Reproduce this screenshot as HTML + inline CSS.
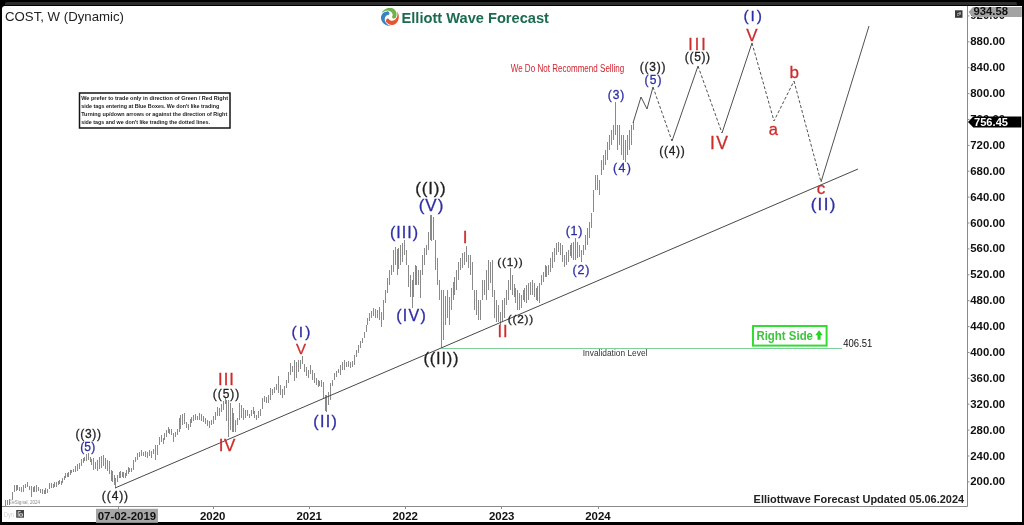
<!DOCTYPE html>
<html><head><meta charset="utf-8">
<style>
html,body{margin:0;padding:0;}
body{width:1024px;height:525px;overflow:hidden;background:#000;position:relative;font-family:"Liberation Sans",sans-serif;}
#panel{position:absolute;left:2px;top:6px;width:1020px;height:516px;background:#fff;border-top-left-radius:3px;}
#band{position:absolute;left:5px;top:2px;width:1012px;height:3px;background:#2e2e2e;border-radius:2px 2px 0 0;}
svg{position:absolute;left:0;top:0;will-change:transform;}
.t{position:absolute;white-space:nowrap;line-height:1;}
</style></head><body>
<div id="band"></div>
<div id="panel"></div>
<svg width="1024" height="525" viewBox="0 0 1024 525" font-family="Liberation Sans, sans-serif">
  <!-- axes -->
  <path d="M967.5 6V506.5M2 506.5H967.5" stroke="#8a8a8a" stroke-width="1" fill="none"/>
  <!-- y ticks -->
  <g stroke="#8c8c8c" stroke-width="1"><path d="M967.5 481.9h2"/><path d="M967.5 456.0h2"/><path d="M967.5 430.1h2"/><path d="M967.5 404.2h2"/><path d="M967.5 378.3h2"/><path d="M967.5 352.5h2"/><path d="M967.5 326.6h2"/><path d="M967.5 300.7h2"/><path d="M967.5 274.8h2"/><path d="M967.5 248.9h2"/><path d="M967.5 223.0h2"/><path d="M967.5 197.1h2"/><path d="M967.5 171.2h2"/><path d="M967.5 145.4h2"/><path d="M967.5 119.5h2"/><path d="M967.5 93.6h2"/><path d="M967.5 67.7h2"/><path d="M967.5 41.8h2"/><path d="M967.5 15.9h2"/></g>
  <!-- x ticks -->
  <g stroke="#8c8c8c" stroke-width="1"><path d="M118.5 506v3"/><path d="M213.5 506v3"/><path d="M309.5 506v3"/><path d="M405.5 506v3"/><path d="M501.5 506v3"/><path d="M598.5 506v3"/></g>
  <!-- price bars -->
  <path d="M5.5 500V506M7.5 500V505M9.5 499V505M12.5 492V500M14.5 485V492M16.5 485V491M17.5 485V490M19.5 487V491M21.5 487V492M23.5 485V492M25.5 484V488M27.5 482V487M29.5 486V490M31.5 486V497M33.5 487V492M34.5 486V492M36.5 485V492M38.5 487V491M40.5 489V493M42.5 489V494M44.5 490V494M45.5 488V494M47.5 489V493M49.5 483V489M51.5 483V488M53.5 484V488M54.5 482V487M56.5 482V487M58.5 481V485M59.5 480V484M61.5 481V485M62.5 478V483M64.5 476V480M65.5 473V478M67.5 473V477M68.5 472V477M70.5 470V475M71.5 470V473M73.5 469V472M75.5 466V472M77.5 464V471M79.5 463V469M81.5 459V466M83.5 458V463M84.5 457V461M86.5 454V461M88.5 453V460M90.5 457V462M91.5 459V465M93.5 458V470M95.5 462V469M97.5 460V471M99.5 457V469M101.5 456V468M103.5 455V466M105.5 458V469M107.5 460V471M109.5 461V474M111.5 470V481M112.5 471V482M114.5 475V485M115.5 478V488M117.5 475V482M119.5 472V478M120.5 471V478M122.5 472V477M123.5 472V478M125.5 473V478M126.5 470V476M128.5 467V474M129.5 468V472M131.5 468V472M133.5 460V470M135.5 457V462M137.5 453V460M139.5 452V457M141.5 450V456M143.5 452V456M145.5 451V457M147.5 452V458M149.5 450V456M151.5 451V458M153.5 449V454M155.5 445V460M157.5 445V455M159.5 437V445M161.5 435V442M163.5 438V444M164.5 433V440M166.5 430V437M168.5 427V433M169.5 429V434M171.5 429V435M173.5 433V442M175.5 432V437M177.5 429V435M179.5 418V432M180.5 415V429M182.5 414V425M184.5 413V424M186.5 422V428M188.5 424V430M190.5 419V427M191.5 417V423M193.5 415V421M195.5 414V420M197.5 416V420M199.5 413V420M201.5 414V421M203.5 416V422M205.5 418V424M207.5 420V426M209.5 421V428M211.5 420V425M213.5 416V424M215.5 412V420M217.5 407V416M219.5 408V416M221.5 404V412M223.5 401V410M225.5 398V404M226.5 400V421M228.5 400V437M230.5 403V430M232.5 408V432M233.5 413V432M235.5 420V432M237.5 418V425M239.5 403V420M241.5 405V418M243.5 408V420M245.5 410V418M247.5 410V416M249.5 414V418M251.5 410V416M253.5 407V414M254.5 411V418M256.5 415V420M258.5 411V418M260.5 409V416M262.5 398V409M264.5 396V402M266.5 397V403M268.5 395V403M270.5 388V400M272.5 389V395M274.5 387V393M276.5 384V390M278.5 376V393M280.5 385V395M282.5 389V398M284.5 386V395M286.5 380V388M288.5 372V383M290.5 363V375M292.5 366V372M294.5 360V381M296.5 362V378M298.5 360V372M300.5 360V369M302.5 356V364M304.5 364V372M306.5 367V376M308.5 370V378M310.5 365V374M312.5 370V380M314.5 373V383M316.5 378V385M318.5 380V387M319.5 381V386M321.5 380V387M323.5 382V398M325.5 395V411M326.5 395V412M328.5 392V405M330.5 383V400M332.5 380V386M334.5 373V380M336.5 371V377M338.5 369V373M340.5 365V375M342.5 362V370M344.5 360V370M346.5 362V367M348.5 361V367M350.5 362V368M352.5 361V367M354.5 355V365M356.5 350V357M358.5 345V353M360.5 341V348M362.5 338V343M364.5 332V338M366.5 325V332M367.5 318V325M369.5 313V321M371.5 311V318M373.5 308V316M375.5 309V318M377.5 310V318M379.5 307V320M381.5 312V327M383.5 300V320M385.5 290V303M387.5 278V293M389.5 270V285M391.5 265V275M393.5 250V272M395.5 247V265M397.5 249V275M398.5 248V269M400.5 245V265M402.5 243V262M404.5 240V255M406.5 250V265M408.5 265V287M410.5 275V297M412.5 280V308M413.5 272V297M415.5 265V285M416.5 266V285M418.5 270V285M420.5 270V298M422.5 255V275M424.5 248V265M426.5 245V255M428.5 232V250M430.5 215V240M431.5 215V241M433.5 217V240M435.5 240V270M437.5 258V285M439.5 280V300M441.5 290V348M443.5 290V340M445.5 296V325M447.5 290V318M449.5 297V325M451.5 288V310M453.5 282V300M454.5 277V295M456.5 270V290M458.5 262V280M460.5 258V270M462.5 253V268M464.5 252V265M466.5 246V262M468.5 255V268M470.5 255V275M472.5 262V290M474.5 290V310M476.5 290V315M478.5 300V320M480.5 300V320M482.5 280V300M484.5 280V295M486.5 270V300M488.5 260V290M490.5 262V283M492.5 260V297M494.5 290V318M496.5 300V322M498.5 305V322M500.5 312V325M502.5 300V322M504.5 298V318M506.5 290V305M508.5 280V300M510.5 268V290M512.5 275V295M514.5 284V297M515.5 288V303M517.5 290V310M519.5 293V310M521.5 295V308M523.5 290V300M524.5 288V302M526.5 285V303M528.5 283V300M530.5 282V295M532.5 280V295M534.5 283V297M536.5 288V300M537.5 286V301M539.5 283V303M541.5 275V285M543.5 272V282M545.5 265V277M546.5 266V277M548.5 265V275M550.5 258V272M552.5 252V268M554.5 248V262M556.5 243V255M558.5 242V252M560.5 243V255M562.5 245V262M564.5 255V267M566.5 252V265M568.5 250V262M570.5 245V256M571.5 243V258M573.5 242V260M575.5 238V260M577.5 242V258M579.5 245V257M581.5 250V262M583.5 245V255M585.5 235V250M587.5 228V245M589.5 222V238M591.5 213V228M593.5 190V212M595.5 175V190M597.5 175V190M599.5 180V195M601.5 160V175M603.5 155V170M605.5 150V165M607.5 142V160M609.5 135V150M611.5 130V145M613.5 125V140M615.5 102V135M617.5 125V150M619.5 125V145M621.5 135V155M623.5 135V160M625.5 140V162M627.5 135V155M629.5 130V150M631.5 125V145M633.5 122V130" stroke="#8a8a8a" stroke-width="1" fill="none"/>
  <!-- trendline -->
  <line x1="115" y1="488" x2="858" y2="169" stroke="#484848" stroke-width="1"/>
  <!-- invalidation green line -->
  <line x1="441" y1="348.5" x2="842" y2="348.5" stroke="#7fcf9a" stroke-width="1"/>
  <!-- projection -->
  <g fill="none" stroke="#505050" stroke-width="1">
    <polyline points="633,123 641,97 647,109 653,87"/>
    <polyline points="672,141 698,66"/>
    <polyline points="722,133 752,43"/>
        <polyline points="821,182 869,26"/>
  </g>
  <g fill="none" stroke="#505050" stroke-width="1" stroke-dasharray="3,2">
    <polyline points="653,87 672,141"/>
    <polyline points="698,66 722,133"/>
    <polyline points="752,43 774,121 794,81"/>
    <polyline points="794,81 821,182"/>
  </g>
  <!-- logo -->
  <path d="M390.58 25.87 L389.41 25.89 L388.24 25.76 L387.09 25.48 L386.00 25.06 L384.96 24.49 L384.01 23.79 L383.16 22.98 L382.43 22.06 L381.82 21.06 L381.34 19.98 L381.01 18.85 L380.93 17.68 L381.08 16.52 L381.43 15.42 L381.95 14.43 L382.62 13.55 L383.40 12.82 L384.27 12.26 L385.19 11.87 L386.13 11.66 A2.10 2.10 0 0 1 388.54 15.10 L388.54 15.10 L388.11 15.05 L387.64 15.09 L387.16 15.22 L386.68 15.45 L386.22 15.77 L385.79 16.19 L385.42 16.71 L385.11 17.31 L384.89 17.99 L384.77 18.73 L384.76 19.53 L384.87 20.35 L385.11 21.19 L385.49 22.03 L386.01 22.84 L386.67 23.61 L387.46 24.31 L388.39 24.92 L389.43 25.43 L390.56 25.57Z" fill="#3784c4"/>
  <path d="M381.64 13.10 L382.21 12.06 L382.91 11.11 L383.72 10.26 L384.64 9.53 L385.64 8.92 L386.72 8.44 L387.85 8.11 L389.02 7.93 L390.19 7.91 L391.36 8.04 L392.51 8.32 L393.56 8.83 L394.49 9.54 L395.26 10.39 L395.87 11.34 L396.29 12.36 L396.53 13.40 L396.58 14.43 L396.46 15.42 L396.18 16.34 A2.10 2.10 0 0 1 391.99 16.71 L391.99 16.71 L392.25 16.36 L392.45 15.94 L392.57 15.46 L392.62 14.93 L392.57 14.37 L392.41 13.78 L392.16 13.20 L391.79 12.63 L391.31 12.10 L390.73 11.63 L390.05 11.22 L389.28 10.90 L388.42 10.69 L387.51 10.61 L386.55 10.65 L385.55 10.84 L384.55 11.17 L383.56 11.67 L382.60 12.31 L381.92 13.22Z" fill="#72b24e"/>
  <path d="M397.17 11.74 L397.78 12.74 L398.26 13.82 L398.59 14.95 L398.77 16.12 L398.79 17.29 L398.66 18.46 L398.38 19.61 L397.96 20.70 L397.39 21.74 L396.69 22.69 L395.88 23.54 L394.91 24.19 L393.83 24.64 L392.71 24.89 L391.58 24.93 L390.49 24.79 L389.47 24.48 L388.55 24.01 L387.75 23.41 L387.10 22.70 A2.10 2.10 0 0 1 388.87 18.89 L388.87 18.89 L389.05 19.29 L389.31 19.67 L389.66 20.02 L390.10 20.32 L390.61 20.56 L391.19 20.72 L391.82 20.79 L392.50 20.76 L393.20 20.61 L393.90 20.34 L394.60 19.95 L395.26 19.44 L395.86 18.81 L396.40 18.06 L396.84 17.21 L397.17 16.25 L397.38 15.22 L397.45 14.11 L397.38 12.96 L396.93 11.91Z" fill="#e5552f"/>
  <!-- wave labels -->
  <text x="88.67" y="438" font-size="12" fill="#1e1e1e" stroke="#1e1e1e" stroke-width="0.3" text-anchor="middle" letter-spacing="0.75">((3))</text>
  <text x="87.75" y="450.5" font-size="12" fill="#2d2da6" stroke="#2d2da6" stroke-width="0.3" text-anchor="middle" letter-spacing="0.1">(5)</text>
  <text x="115.45" y="499.5" font-size="12" fill="#1e1e1e" stroke="#1e1e1e" stroke-width="0.3" text-anchor="middle" letter-spacing="0.9">((4))</text>
  <text x="226.53" y="385" font-size="16.5" fill="#cf2c2c" stroke="#cf2c2c" stroke-width="0.3" text-anchor="middle" letter-spacing="1.05">III</text>
  <text x="226.50" y="397.5" font-size="12" fill="#1e1e1e" stroke="#1e1e1e" stroke-width="0.3" text-anchor="middle" letter-spacing="1.0">((5))</text>
  <text x="227.25" y="451" font-size="17" fill="#cf2c2c" stroke="#cf2c2c" stroke-width="0.3" text-anchor="middle" letter-spacing="0.5">IV</text>
  <text x="302.10" y="336.5" font-size="15.5" fill="#2d2da6" stroke="#2d2da6" stroke-width="0.3" text-anchor="middle" letter-spacing="2.2">(I)</text>
  <text x="301.00" y="354" font-size="15" fill="#cf2c2c" stroke="#cf2c2c" stroke-width="0.3" text-anchor="middle" letter-spacing="0">V</text>
  <text x="325.65" y="427" font-size="16" fill="#2d2da6" stroke="#2d2da6" stroke-width="0.3" text-anchor="middle" letter-spacing="1.3">(II)</text>
  <text x="404.50" y="238" font-size="16" fill="#2d2da6" stroke="#2d2da6" stroke-width="0.3" text-anchor="middle" letter-spacing="1.0">(III)</text>
  <text x="411.65" y="321.4" font-size="16" fill="#2d2da6" stroke="#2d2da6" stroke-width="0.3" text-anchor="middle" letter-spacing="1.3">(IV)</text>
  <text x="430.90" y="193.8" font-size="17" fill="#1e1e1e" stroke="#1e1e1e" stroke-width="0.3" text-anchor="middle" letter-spacing="0.8">((I))</text>
  <text x="431.50" y="211.4" font-size="17" fill="#2d2da6" stroke="#2d2da6" stroke-width="0.3" text-anchor="middle" letter-spacing="1.0">(V)</text>
  <text x="441.40" y="364.2" font-size="16.5" fill="#1e1e1e" stroke="#1e1e1e" stroke-width="0.3" text-anchor="middle" letter-spacing="0.8">((II))</text>
  <text x="465.00" y="242.6" font-size="17" fill="#cf2c2c" stroke="#cf2c2c" stroke-width="0.3" text-anchor="middle" letter-spacing="0">I</text>
  <text x="510.40" y="265.5" font-size="11.8" fill="#1e1e1e" stroke="#1e1e1e" stroke-width="0.3" text-anchor="middle" letter-spacing="0.8">((1))</text>
  <text x="503.10" y="336.7" font-size="16.5" fill="#cf2c2c" stroke="#cf2c2c" stroke-width="0.3" text-anchor="middle" letter-spacing="1.0">II</text>
  <text x="520.90" y="322.6" font-size="11.8" fill="#1e1e1e" stroke="#1e1e1e" stroke-width="0.3" text-anchor="middle" letter-spacing="0.8">((2))</text>
  <text x="574.35" y="234.8" font-size="12.5" fill="#2d2da6" stroke="#2d2da6" stroke-width="0.3" text-anchor="middle" letter-spacing="0.7">(1)</text>
  <text x="581.38" y="273.8" font-size="12.5" fill="#2d2da6" stroke="#2d2da6" stroke-width="0.3" text-anchor="middle" letter-spacing="0.75">(2)</text>
  <text x="616.50" y="99" font-size="12" fill="#2d2da6" stroke="#2d2da6" stroke-width="0.3" text-anchor="middle" letter-spacing="1.0">(3)</text>
  <text x="622.65" y="171.5" font-size="12.5" fill="#2d2da6" stroke="#2d2da6" stroke-width="0.3" text-anchor="middle" letter-spacing="1.3">(4)</text>
  <text x="652.98" y="71" font-size="12" fill="#1e1e1e" stroke="#1e1e1e" stroke-width="0.3" text-anchor="middle" letter-spacing="0.75">((3))</text>
  <text x="653.55" y="83.5" font-size="12" fill="#2d2da6" stroke="#2d2da6" stroke-width="0.3" text-anchor="middle" letter-spacing="1.1">(5)</text>
  <text x="672.38" y="154.5" font-size="12" fill="#1e1e1e" stroke="#1e1e1e" stroke-width="0.3" text-anchor="middle" letter-spacing="0.75">((4))</text>
  <text x="698.00" y="49.5" font-size="16" fill="#cf2c2c" stroke="#cf2c2c" stroke-width="0.3" text-anchor="middle" letter-spacing="2.0">III</text>
  <text x="697.83" y="60.5" font-size="12" fill="#1e1e1e" stroke="#1e1e1e" stroke-width="0.3" text-anchor="middle" letter-spacing="0.65">((5))</text>
  <text x="719.75" y="149" font-size="17.5" fill="#cf2c2c" stroke="#cf2c2c" stroke-width="0.3" text-anchor="middle" letter-spacing="1.5">IV</text>
  <text x="752.00" y="40.5" font-size="17" fill="#cf2c2c" stroke="#cf2c2c" stroke-width="0.3" text-anchor="middle" letter-spacing="0">V</text>
  <text x="753.70" y="21" font-size="15.5" fill="#2d2da6" stroke="#2d2da6" stroke-width="0.3" text-anchor="middle" letter-spacing="2.0">(I)</text>
  <text x="773.30" y="135" font-size="16.5" fill="#cf2c2c" stroke="#cf2c2c" stroke-width="0.3" text-anchor="middle" letter-spacing="0">a</text>
  <text x="794.30" y="78" font-size="17" fill="#cf2c2c" stroke="#cf2c2c" stroke-width="0.3" text-anchor="middle" letter-spacing="0">b</text>
  <text x="821.00" y="193.5" font-size="17" fill="#cf2c2c" stroke="#cf2c2c" stroke-width="0.3" text-anchor="middle" letter-spacing="0">c</text>
  <text x="823.65" y="210" font-size="17" fill="#2d2da6" stroke="#2d2da6" stroke-width="0.3" text-anchor="middle" letter-spacing="1.3">(II)</text>
  <text x="970.3" y="485.4" font-size="11" font-weight="bold" fill="#111" textLength="34.8" lengthAdjust="spacingAndGlyphs">200.00</text>
  <text x="970.3" y="459.5" font-size="11" font-weight="bold" fill="#111" textLength="34.8" lengthAdjust="spacingAndGlyphs">240.00</text>
  <text x="970.3" y="433.6" font-size="11" font-weight="bold" fill="#111" textLength="34.8" lengthAdjust="spacingAndGlyphs">280.00</text>
  <text x="970.3" y="407.7" font-size="11" font-weight="bold" fill="#111" textLength="34.8" lengthAdjust="spacingAndGlyphs">320.00</text>
  <text x="970.3" y="381.8" font-size="11" font-weight="bold" fill="#111" textLength="34.8" lengthAdjust="spacingAndGlyphs">360.00</text>
  <text x="970.3" y="356.0" font-size="11" font-weight="bold" fill="#111" textLength="34.8" lengthAdjust="spacingAndGlyphs">400.00</text>
  <text x="970.3" y="330.1" font-size="11" font-weight="bold" fill="#111" textLength="34.8" lengthAdjust="spacingAndGlyphs">440.00</text>
  <text x="970.3" y="304.2" font-size="11" font-weight="bold" fill="#111" textLength="34.8" lengthAdjust="spacingAndGlyphs">480.00</text>
  <text x="970.3" y="278.3" font-size="11" font-weight="bold" fill="#111" textLength="34.8" lengthAdjust="spacingAndGlyphs">520.00</text>
  <text x="970.3" y="252.4" font-size="11" font-weight="bold" fill="#111" textLength="34.8" lengthAdjust="spacingAndGlyphs">560.00</text>
  <text x="970.3" y="226.5" font-size="11" font-weight="bold" fill="#111" textLength="34.8" lengthAdjust="spacingAndGlyphs">600.00</text>
  <text x="970.3" y="200.6" font-size="11" font-weight="bold" fill="#111" textLength="34.8" lengthAdjust="spacingAndGlyphs">640.00</text>
  <text x="970.3" y="174.7" font-size="11" font-weight="bold" fill="#111" textLength="34.8" lengthAdjust="spacingAndGlyphs">680.00</text>
  <text x="970.3" y="148.9" font-size="11" font-weight="bold" fill="#111" textLength="34.8" lengthAdjust="spacingAndGlyphs">720.00</text>
  <text x="970.3" y="123.0" font-size="11" font-weight="bold" fill="#111" textLength="34.8" lengthAdjust="spacingAndGlyphs">760.00</text>
  <text x="970.3" y="97.1" font-size="11" font-weight="bold" fill="#111" textLength="34.8" lengthAdjust="spacingAndGlyphs">800.00</text>
  <text x="970.3" y="71.2" font-size="11" font-weight="bold" fill="#111" textLength="34.8" lengthAdjust="spacingAndGlyphs">840.00</text>
  <text x="970.3" y="45.3" font-size="11" font-weight="bold" fill="#111" textLength="34.8" lengthAdjust="spacingAndGlyphs">880.00</text>
  <text x="970.3" y="19.4" font-size="11" font-weight="bold" fill="#111" textLength="34.8" lengthAdjust="spacingAndGlyphs">920.00</text>
  <text x="5" y="20.6" font-size="13.3" fill="#222" font-weight="normal" text-anchor="start" textLength="119" lengthAdjust="spacingAndGlyphs">COST, W (Dynamic)</text>
  <text x="401.5" y="22.6" font-size="14.5" fill="#1b6b50" font-weight="bold" text-anchor="start" textLength="147.5" lengthAdjust="spacingAndGlyphs">Elliott Wave Forecast</text>
  <rect x="79.5" y="93" width="150.5" height="35" fill="#fff" stroke="#151515" stroke-width="1.5"/>
  <text x="81.2" y="100.2" font-size="6.2" fill="#1a1a1a" font-weight="bold" text-anchor="start" textLength="146.8" lengthAdjust="spacingAndGlyphs">We prefer to trade only in direction of Green / Red Right</text>
  <text x="81.2" y="108.05" font-size="6.2" fill="#1a1a1a" font-weight="bold" text-anchor="start" textLength="138" lengthAdjust="spacingAndGlyphs">side tags entering at Blue Boxes. We don't like trading</text>
  <text x="81.2" y="115.9" font-size="6.2" fill="#1a1a1a" font-weight="bold" text-anchor="start" textLength="146" lengthAdjust="spacingAndGlyphs">Turning up/down arrows or against the direction of Right</text>
  <text x="81.2" y="123.75" font-size="6.2" fill="#1a1a1a" font-weight="bold" text-anchor="start" textLength="128.7" lengthAdjust="spacingAndGlyphs">side tags and we don't like trading the dotted lines.</text>
  <text x="510.7" y="72.4" font-size="10" fill="#d02430" font-weight="normal" text-anchor="start" textLength="113.5" lengthAdjust="spacingAndGlyphs">We Do Not Recommend Selling</text>
  <text x="582.8" y="356.1" font-size="9" fill="#333" font-weight="normal" text-anchor="start" textLength="64.6" lengthAdjust="spacingAndGlyphs">Invalidation Level</text>
  <rect x="753" y="326" width="73.6" height="19.6" fill="#fff" stroke="#33dd33" stroke-width="2"/>
  <text x="756.4" y="339.7" font-size="13" fill="#3cc63c" font-weight="bold" text-anchor="start" textLength="56.6" lengthAdjust="spacingAndGlyphs">Right Side</text>
  <path d="M815.3 335.3L819.05 330.3L822.8 335.3H820.6V339.7H817.5V335.3Z" fill="#22d522"/>
  <text x="843.2" y="346.6" font-size="10.5" fill="#111" font-weight="normal" text-anchor="start" textLength="29" lengthAdjust="spacingAndGlyphs">406.51</text>
  <text x="753.6" y="502.7" font-size="11" fill="#222" font-weight="bold" text-anchor="start" textLength="210.5" lengthAdjust="spacingAndGlyphs">Elliottwave Forecast Updated 05.06.2024</text>
  <path d="M968.5 12L973 6.9H1021.8V16.9H973Z" fill="#a3a3a3"/>
  <text x="973.5" y="15.2" font-size="10.5" fill="#111" font-weight="bold" text-anchor="start" textLength="34.5" lengthAdjust="spacingAndGlyphs">934.58</text>
  <path d="M968 121.9L973.3 116.4H1021.3V127.4H973.3Z" fill="#000"/>
  <text x="974" y="125.5" font-size="10.5" fill="#fff" font-weight="bold" text-anchor="start" textLength="34" lengthAdjust="spacingAndGlyphs">756.45</text>
  <rect x="955" y="10.3" width="7.5" height="7.5" fill="#3a3a3a"/><path d="M957 16V13.5L959.5 12H961V14.5L958.5 16Z" fill="#9a9a9a"/><rect x="957.6" y="14.2" width="1.6" height="1" fill="#333"/>
  <rect x="96" y="508.8" width="62" height="14" fill="#a6a6a6"/>
  <text x="97.7" y="519.5" font-size="11.5" fill="#111" font-weight="bold" text-anchor="start" textLength="58.5" lengthAdjust="spacingAndGlyphs">07-02-2019</text>
  <text x="200" y="519.5" font-size="11.5" fill="#111" font-weight="bold" text-anchor="start" textLength="25.5" lengthAdjust="spacingAndGlyphs">2020</text>
  <text x="296.5" y="519.5" font-size="11.5" fill="#111" font-weight="bold" text-anchor="start" textLength="25.5" lengthAdjust="spacingAndGlyphs">2021</text>
  <text x="392.5" y="519.5" font-size="11.5" fill="#111" font-weight="bold" text-anchor="start" textLength="25.5" lengthAdjust="spacingAndGlyphs">2022</text>
  <text x="489" y="519.5" font-size="11.5" fill="#111" font-weight="bold" text-anchor="start" textLength="25.5" lengthAdjust="spacingAndGlyphs">2023</text>
  <text x="585.2" y="519.5" font-size="11.5" fill="#111" font-weight="bold" text-anchor="start" textLength="25.5" lengthAdjust="spacingAndGlyphs">2024</text>
  <text x="4" y="516.8" font-size="6.5" fill="#d0d0d0" font-weight="normal" text-anchor="start" textLength="10" lengthAdjust="spacingAndGlyphs">Dyn</text>
  <rect x="16.2" y="510" width="7.8" height="7.7" fill="#444"/><path d="M18.2 516.6V511.6H20.6M19.6 513.8H22.4V516.2H19.6Z" fill="none" stroke="#ddd" stroke-width="0.9"/>
  <text x="9" y="503.8" font-size="6" fill="#8a8a8a" font-weight="normal" text-anchor="start" textLength="31" lengthAdjust="spacingAndGlyphs">©eSignal, 2024</text>
</svg>

</body></html>
